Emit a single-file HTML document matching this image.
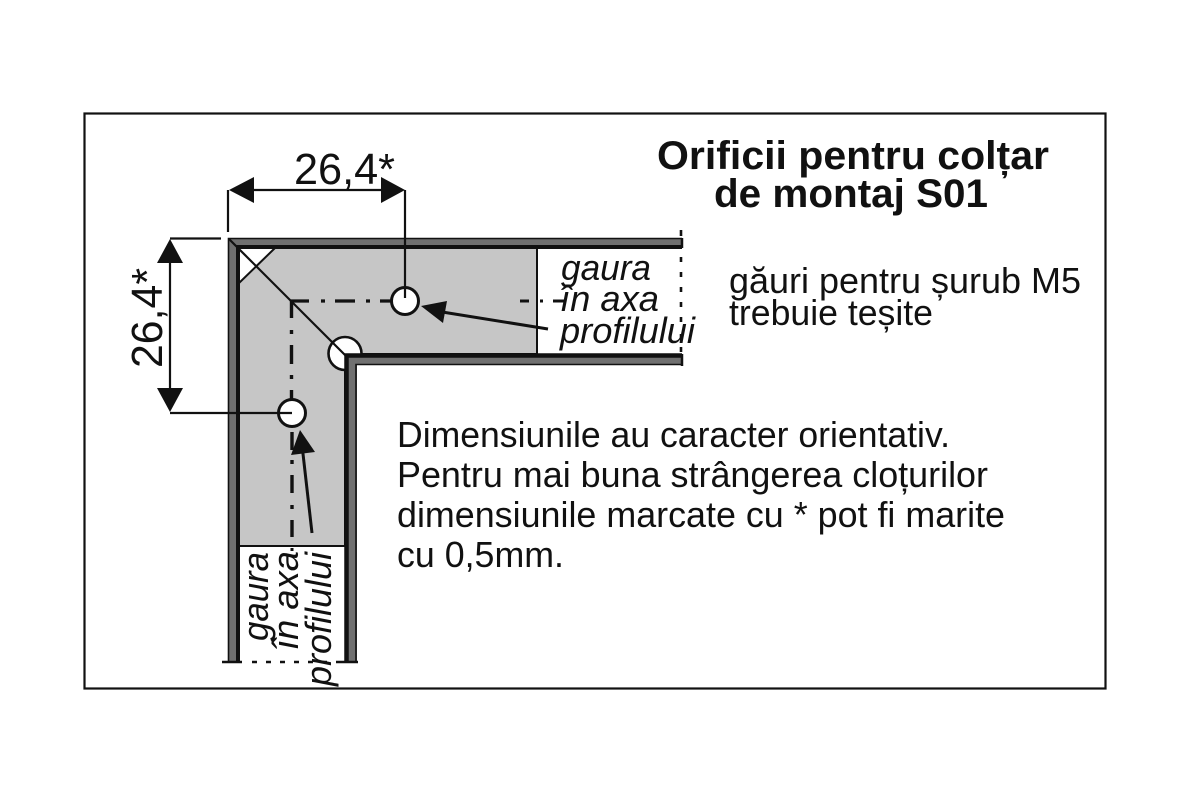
<!DOCTYPE html>
<html lang="ro">
<head>
<meta charset="utf-8">
<title>Orificii pentru colțar de montaj S01</title>
<style>
html,body{margin:0;padding:0;background:#fff;width:1200px;height:800px;overflow:hidden}
svg{display:block}
text{font-family:"Liberation Sans",sans-serif;fill:#111}
.it{font-style:italic;font-size:36px}
.b{font-weight:bold;font-size:40px}
.r{font-size:36px}
.d{font-size:44px}
</style>
</head>
<body>
<svg width="1200" height="800" viewBox="0 0 1200 800" xmlns="http://www.w3.org/2000/svg">
<rect x="84.5" y="113.5" width="1021" height="575" fill="#fff" stroke="#111" stroke-width="2.2"/>

<!-- gray fill -->
<polygon points="238,248 537,248 537,354 345,354 345,546 238,546" fill="#c6c6c6" stroke="#111" stroke-width="2"/>
<!-- white corner -->
<polygon points="238,248 275,248 238,284" fill="#fff"/>
<line x1="275" y1="248" x2="238" y2="284" stroke="#111" stroke-width="2"/>

<!-- corner hole -->
<circle cx="345" cy="353.500" r="16.500" fill="#fff" stroke="#111" stroke-width="2.600"/>
<rect x="347" y="355" width="30" height="20" fill="#fff"/>

<!-- profile bars -->
<polygon points="229,239 682,239 682,247 238,247 238,662 229,662" fill="#707070"/>
<path d="M228.5,662 V238.5 H682" fill="none" stroke="#111" stroke-width="1.6"/>
<path d="M682,247 H238 V662" fill="none" stroke="#111" stroke-width="4"/>
<path d="M682,238 V248" stroke="#111" stroke-width="2.5"/>

<polygon points="347,355 682,355 682,365 357,365 357,662 347,662" fill="#707070"/>
<path d="M682,355.5 H346.5 V662" fill="none" stroke="#111" stroke-width="4.5"/>
<path d="M682,364.5 H356 V662" fill="none" stroke="#111" stroke-width="1.6"/>
<path d="M682,354 V366" stroke="#111" stroke-width="2.5"/>

<!-- diagonal -->
<line x1="229" y1="239" x2="348" y2="358" stroke="#111" stroke-width="2.2"/>

<!-- axis dash-dot -->
<path d="M291,301 H309 M321,301 H325 M335,301 H355 M366,301 H370 M380,301 H391" stroke="#111" stroke-width="3.2" fill="none"/>
<path d="M291.500,300 V318 M291.500,330 V334 M291.500,345 V364 M291.500,375 V379 M291.500,390 V399" stroke="#111" stroke-width="3.4" fill="none"/>
<path d="M292,432 V450 M292,460 V464 M292,475 V493 M292,505 V509 M292,520 V537" stroke="#111" stroke-width="3.4" fill="none"/>
<path d="M520,301 H529 M540,301 H543 M553,301 H565" stroke="#111" stroke-width="3" fill="none"/>
<path d="M292,548 V551" stroke="#111" stroke-width="3"/>

<!-- end dotted lines -->
<path d="M681,230 V236 M681,257 V262 M681,272 V277 M681,287 V292 M681,302 V307 M681,317 V322 M681,334 V339 M681,347 V352" stroke="#111" stroke-width="2.6" fill="none"/>
<path d="M222,662 H242 M340,662 H358" stroke="#111" stroke-width="2.6" fill="none"/>
<path d="M252,662 H340" stroke="#111" stroke-width="2.4" stroke-dasharray="5 9" fill="none"/>

<!-- holes -->
<circle cx="405" cy="301" r="13.500" fill="#fff" stroke="#111" stroke-width="3"/>
<circle cx="292" cy="413" r="13.500" fill="#fff" stroke="#111" stroke-width="3"/>

<!-- dimensions -->
<path d="M228,190 V232 M405,190 V298" stroke="#111" stroke-width="2.200" fill="none"/>
<line x1="240" y1="190" x2="395" y2="190" stroke="#111" stroke-width="2.2"/>
<polygon points="229,190 254,177 254,203" fill="#111"/>
<polygon points="405,190 381,177 381,203" fill="#111"/>
<path d="M170,238.500 H221 M170,413 H292" stroke="#111" stroke-width="2.200" fill="none"/>
<line x1="170" y1="250" x2="170" y2="400" stroke="#111" stroke-width="2.2"/>
<polygon points="170,239 157,263 183,263" fill="#111"/>
<polygon points="170,412 157,388 183,388" fill="#111"/>

<!-- pointers -->
<line x1="548" y1="329" x2="436" y2="311" stroke="#111" stroke-width="3"/>
<polygon points="421,306 447,301 443,323" fill="#111"/>
<line x1="312" y1="533" x2="302" y2="445" stroke="#111" stroke-width="3"/>
<polygon points="300,430 315,452 291,455" fill="#111"/>

<!-- dimension labels -->
<text class="d" x="294" y="184" textLength="101" lengthAdjust="spacingAndGlyphs">26,4*</text>
<text class="d" transform="translate(162,368) rotate(-90)" textLength="100" lengthAdjust="spacingAndGlyphs">26,4*</text>

<!-- hole labels -->
<text class="it" x="561" y="280" textLength="90" lengthAdjust="spacingAndGlyphs">gaura</text>
<text class="it" x="560" y="311" textLength="99" lengthAdjust="spacingAndGlyphs">în axa</text>
<text class="it" x="560" y="343" textLength="135" lengthAdjust="spacingAndGlyphs">profilului</text>
<text class="it" transform="translate(268,641) rotate(-90)" textLength="89" lengthAdjust="spacingAndGlyphs">gaura</text>
<text class="it" transform="translate(298,650) rotate(-90)" textLength="99" lengthAdjust="spacingAndGlyphs">în axa</text>
<text class="it" transform="translate(331,686) rotate(-90)" textLength="134" lengthAdjust="spacingAndGlyphs">profilului</text>

<!-- title -->
<text class="b" x="657" y="169" textLength="392" lengthAdjust="spacingAndGlyphs">Orificii pentru colțar</text>
<text class="b" x="714" y="207" textLength="274" lengthAdjust="spacingAndGlyphs">de montaj S01</text>

<!-- notes -->
<text class="r" x="729" y="293" textLength="352" lengthAdjust="spacingAndGlyphs">găuri pentru șurub M5</text>
<text class="r" x="729" y="325" textLength="204" lengthAdjust="spacingAndGlyphs">trebuie teșite</text>
<text class="r" x="397" y="447" textLength="553" lengthAdjust="spacingAndGlyphs">Dimensiunile au caracter orientativ.</text>
<text class="r" x="397" y="487" textLength="591" lengthAdjust="spacingAndGlyphs">Pentru mai buna strângerea cloțurilor</text>
<text class="r" x="397" y="527" textLength="608" lengthAdjust="spacingAndGlyphs">dimensiunile marcate cu * pot fi marite</text>
<text class="r" x="397" y="567" textLength="167" lengthAdjust="spacingAndGlyphs">cu 0,5mm.</text>
</svg>
</body>
</html>
